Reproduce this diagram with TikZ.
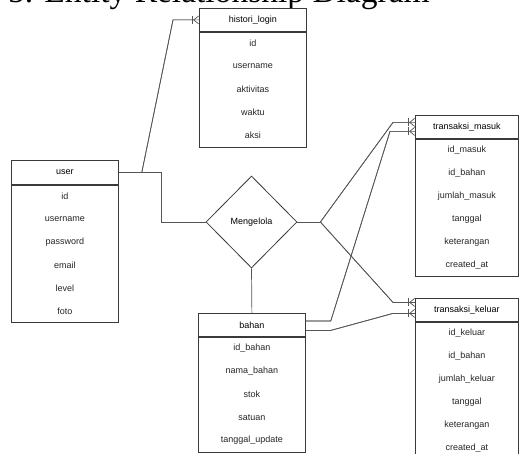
\documentclass[tikz,border=0pt]{standalone}
\usepackage{fontspec}
\setmainfont{Liberation Sans}
\newfontfamily\titlefont{Liberation Serif}
\usepackage{tikz}
\usetikzlibrary{arrows.meta,positioning,shapes.geometric,calc}
\definecolor{frame}{HTML}{3A3A3A}
\definecolor{edge}{HTML}{555555}
\newcommand{\fields}[2]{%
  \foreach \f [count=\i] in {#2}
    \node[fld] at ($(#1.north)+(0,23*\i-11.5)$) {\f};}
\tikzset{
  hdr/.style={draw=frame,fill=white,line width=0.8pt,minimum width=107pt,minimum height=23pt,inner sep=0pt,anchor=north west,font=\fontsize{9}{11}\selectfont},
  body/.style={draw=frame,fill=white,line width=0.8pt,minimum width=107pt,inner sep=0pt},
  fld/.style={inner sep=0pt,font=\fontsize{9}{11}\selectfont,text=black!85},
  rel/.style={diamond,draw=frame,fill=white,line width=0.8pt,minimum width=91pt,minimum height=92pt,inner sep=0pt,font=\fontsize{9}{11}\selectfont},
  link/.style={draw=edge,line width=0.7pt},
  many/.style={link,postaction={draw=edge,-{Bar[width=8pt,sep=0pt] Straight Barb[reversed,length=5pt,width=8pt]}}},
}

\begin{document}
\begin{tikzpicture}[x=1pt,y=-1pt]
\clip (0,0) rectangle (519,454);
\node[anchor=base west,inner sep=0pt,font=\titlefont\fontsize{33.5}{38}\selectfont] (title) at (8,3) {5. Entity Relationship Diagram};
% entities
\node[hdr] (histori) at (199,8) {histori\_login};
\node[body,minimum height=115pt,below=0pt of histori] (histori-b) {};
\fields{histori-b}{id,username,aktivitas,waktu,aksi}
\node[hdr,minimum height=24pt] (user) at (11,160) {user};
\node[body,minimum height=137pt,below=0pt of user] (user-b) {};
\fields{user-b}{id,username,password,email,level,foto}
\node[hdr] (bahan) at (198,313) {bahan};
\node[body,minimum height=115pt,below=0pt of bahan] (bahan-b) {};
\fields{bahan-b}{id\_bahan,nama\_bahan,stok,satuan,tanggal\_update}
\node[hdr,minimum width=103pt] (masuk) at (415,115) {transaksi\_masuk};
\node[body,minimum width=103pt,minimum height=137pt,below=0pt of masuk] (masuk-b) {};
\fields{masuk-b}{id\_masuk,id\_bahan,jumlah\_masuk,tanggal,keterangan,created\_at}
\node[hdr,minimum width=103pt] (keluar) at (415,298) {transaksi\_keluar};
\node[body,minimum width=103pt,minimum height=138pt,below=0pt of keluar] (keluar-b) {};
\fields{keluar-b}{id\_keluar,id\_bahan,jumlah\_keluar,tanggal,keterangan,created\_at}
% relationship
\node[rel] (kelola) at (251.5,222) {Mengelola};
% connectors
\draw[many] (user.east) -- ++(23,0) -- ($(histori.west)+(-26,0)$) -- (histori.west);
\draw[link] (user.east) -| ($(kelola.west)+(-44,0)$) -- (kelola.west);
\draw[link] (kelola.south) -- (bahan.north);
\coordinate (fork) at ($(kelola.east)+(23,0)$);
\draw[link] (kelola.east) -- (fork);
\draw[many] (fork) -- ($(masuk.west)+(-22,-4.5)$) -- ($(masuk.west)+(0,-4.5)$);
\draw[many] (fork) -- ($(keluar.west)+(-22,-7.5)$) -- ($(keluar.west)+(0,-7.5)$);
\draw[many] ($(bahan.east)+(0,-4)$) -- ++(25,0) -- ($(masuk.west)+(-25,4.5)$) -- ($(masuk.west)+(0,4.5)$);
\draw[many] ($(bahan.east)+(0,5.5)$) -- ++(25,0) -- ($(keluar.west)+(-22,3.5)$) -- ($(keluar.west)+(0,3.5)$);
\end{tikzpicture}
\end{document}
